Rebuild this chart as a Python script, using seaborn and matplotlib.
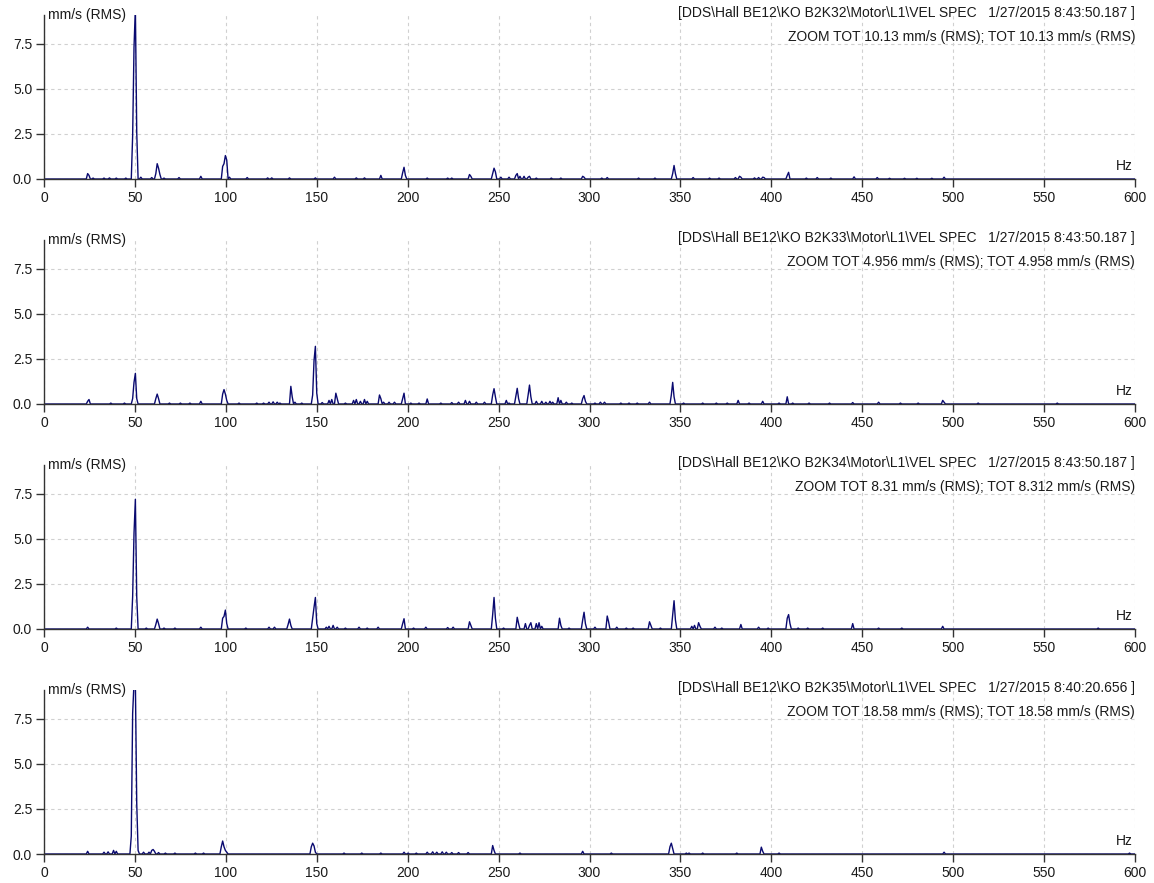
import numpy as np
import pandas as pd
import matplotlib
matplotlib.use("Agg")
import matplotlib.pyplot as plt
import seaborn as sns

# ---------------- data (peaks) ----------------
p1_freq = [24.0, 24.75, 27, 33, 36, 40, 45, 48.5, 49.25, 50.0, 50.75, 53, 59, 61.5, 62.25, 63.0, 63.75, 66, 74, 86,
           98.25, 99.0, 99.75, 100.5, 102, 112, 123, 125, 135, 149, 160, 172, 176, 185, 197.25, 198.0, 198.75, 211,
           222, 224, 234.25, 235, 246.75, 247.5, 248.25, 251, 256, 259.5, 260.25, 262, 264, 266, 267, 271, 279, 284,
           296.5, 297.25, 307, 310, 327, 336, 345.75, 346.5, 347.25, 357, 366, 371, 380, 382.5, 383.25, 391, 393,
           395.25, 396, 408.75, 409.5, 419, 425, 433, 445.5, 458.25, 465, 473, 480, 488, 495]
p1_amp = [0.3, 0.2, 0.05, 0.05, 0.06, 0.05, 0.05, 2.4, 7.3, 9.5, 2.6, 0.1, 0.08, 0.3, 0.85, 0.6, 0.25, 0.05, 0.08, 0.15,
          0.7, 0.85, 1.3, 1.05, 0.1, 0.08, 0.06, 0.06, 0.06, 0.06, 0.1, 0.06, 0.06, 0.2, 0.35, 0.65, 0.2, 0.05,
          0.05, 0.05, 0.25, 0.15, 0.3, 0.6, 0.4, 0.1, 0.1, 0.2, 0.3, 0.15, 0.15, 0.1, 0.15, 0.05, 0.05, 0.05,
          0.15, 0.1, 0.05, 0.08, 0.05, 0.05, 0.3, 0.75, 0.3, 0.08, 0.05, 0.05, 0.08, 0.15, 0.1, 0.06, 0.08,
          0.1, 0.08, 0.2, 0.37, 0.05, 0.08, 0.05, 0.12, 0.08, 0.04, 0.04, 0.04, 0.04, 0.1]

p2_freq = [24.0, 24.75, 37, 44, 48.5, 49.25, 50.0, 50.75, 61.5, 62.25, 63.0, 69, 75, 80, 86, 98.25, 99.0, 99.75, 100.5,
           107, 117, 121, 124, 126, 128, 130, 135.75, 136.5, 138, 142, 147.75, 148.5, 149.25, 150.0, 153, 157, 158.5,
           160.5, 161.25, 166, 170, 172, 174, 176, 178, 184.5, 185.25, 187, 190, 193, 197.25, 198, 202, 206, 211,
           218, 224, 228, 232, 234, 238, 242, 246.75, 247.5, 248.25, 254, 256, 259.75, 260.5, 261.25, 266.5, 267.25,
           268, 271, 274, 276, 278, 280, 283, 284, 287, 290, 296.25, 297, 297.75, 303, 306, 308, 317, 322, 326, 333,
           345.25, 346, 346.75, 352, 362, 370, 376, 382, 388, 395, 404, 408.5, 412, 421, 432, 445, 459, 471, 481,
           494.5, 495.25, 514, 557]
p2_amp = [0.15, 0.25, 0.05, 0.05, 0.3, 1.2, 1.7, 0.3, 0.3, 0.55, 0.3, 0.05, 0.05, 0.05, 0.15, 0.55, 0.8, 0.55, 0.2,
          0.05, 0.05, 0.05, 0.1, 0.12, 0.1, 0.05, 0.98, 0.4, 0.1, 0.05, 0.5, 2.4, 3.2, 0.6, 0.08, 0.2, 0.25,
          0.6, 0.3, 0.05, 0.2, 0.25, 0.15, 0.25, 0.15, 0.5, 0.3, 0.1, 0.1, 0.1, 0.3, 0.6, 0.05, 0.05, 0.28,
          0.05, 0.08, 0.1, 0.2, 0.15, 0.1, 0.1, 0.5, 0.85, 0.4, 0.2, 0.05, 0.45, 0.87, 0.3, 0.5, 1.05,
          0.4, 0.15, 0.15, 0.1, 0.15, 0.1, 0.35, 0.2, 0.1, 0.05, 0.3, 0.47, 0.15, 0.05, 0.1, 0.1, 0.05, 0.05, 0.05, 0.1,
          0.5, 1.2, 0.4, 0.05, 0.05, 0.05, 0.05, 0.2, 0.05, 0.15, 0.05, 0.4, 0.05, 0.05, 0.05, 0.08, 0.1, 0.05, 0.05,
          0.2, 0.1, 0.05, 0.05]

p3_freq = [24, 40, 48.5, 49.25, 50.0, 50.75, 56, 61.5, 62.25, 63.0, 66, 72, 86, 98.25, 99.0, 99.75, 100.5, 111, 124, 127,
           134.5, 135.25, 136, 147.75, 148.5, 149.25, 150, 155, 157, 159, 161, 166, 173, 178, 184, 197.25, 198, 203,
           210, 222, 225, 234.25, 235, 246.75, 247.5, 248.25, 253, 260.5, 261.25, 265, 267, 268, 271, 272, 274,
           283.75, 284.5, 289, 296.5, 297.25, 298, 303, 309.75, 310.5, 315, 320, 324, 333.25, 334, 339, 346, 346.75,
           347.5, 356, 358, 360, 361, 369, 373, 383, 393, 398, 408.75, 409.5, 410.25, 415, 420, 428, 445, 459, 472,
           494.5, 580]
p3_amp = [0.1, 0.05, 1.8, 5.3, 7.2, 1.8, 0.05, 0.25, 0.55, 0.3, 0.05, 0.05, 0.1, 0.6, 0.7, 1.05, 0.3, 0.05, 0.1, 0.1,
          0.25, 0.55, 0.2, 0.6, 1.2, 1.75, 0.3, 0.1, 0.15, 0.2, 0.1, 0.05, 0.1, 0.05, 0.1, 0.3, 0.57, 0.05,
          0.1, 0.08, 0.1, 0.4, 0.2, 0.8, 1.75, 0.6, 0.05, 0.65, 0.3, 0.3, 0.2, 0.35, 0.3, 0.35, 0.15,
          0.6, 0.2, 0.05, 0.5, 0.93, 0.3, 0.1, 0.72, 0.4, 0.1, 0.05, 0.05, 0.4, 0.2, 0.05, 0.8, 1.57,
          0.5, 0.15, 0.2, 0.35, 0.15, 0.1, 0.05, 0.25, 0.1, 0.05, 0.6, 0.8, 0.3, 0.05, 0.05, 0.05, 0.3, 0.05, 0.05,
          0.15, 0.05]

p4_freq = [24, 33, 35, 38, 40, 47.75, 48.5, 49.25, 50.0, 50.75, 51.5, 55, 58, 59.5, 60.25, 61, 63, 67, 72, 83, 88,
           97.5, 98.25, 99, 99.75, 100.5, 147, 147.75, 148.5, 149.25, 165, 175, 185, 198, 200, 205, 211, 214, 216,
           219, 221, 224, 228, 233, 246.75, 247.5, 262, 296.5, 312, 344.5, 345.25, 346, 353, 355, 362, 381,
           394.75, 395.5, 404, 495, 597]
p4_amp = [0.15, 0.1, 0.12, 0.2, 0.15, 1.0, 7.8, 9.5, 9.5, 2.8, 0.2, 0.1, 0.1, 0.2, 0.25, 0.15, 0.08, 0.05, 0.05, 0.05,
          0.05, 0.4, 0.72, 0.4, 0.2, 0.1, 0.4, 0.6, 0.45, 0.1, 0.05, 0.05, 0.05, 0.1, 0.05, 0.05, 0.1, 0.12, 0.1,
          0.12, 0.1, 0.08, 0.08, 0.08, 0.47, 0.2, 0.05, 0.15, 0.05, 0.4, 0.6, 0.3, 0.05, 0.05, 0.05, 0.05,
          0.38, 0.15, 0.05, 0.1, 0.05]

titles = [
    ("[DDS\\Hall BE12\\KO B2K32\\Motor\\L1\\VEL SPEC   1/27/2015 8:43:50.187 ]",
     "ZOOM TOT 10.13 mm/s (RMS); TOT 10.13 mm/s (RMS)"),
    ("[DDS\\Hall BE12\\KO B2K33\\Motor\\L1\\VEL SPEC   1/27/2015 8:43:50.187 ]",
     "ZOOM TOT 4.956 mm/s (RMS); TOT 4.958 mm/s (RMS)"),
    ("[DDS\\Hall BE12\\KO B2K34\\Motor\\L1\\VEL SPEC   1/27/2015 8:43:50.187 ]",
     "ZOOM TOT 8.31 mm/s (RMS); TOT 8.312 mm/s (RMS)"),
    ("[DDS\\Hall BE12\\KO B2K35\\Motor\\L1\\VEL SPEC   1/27/2015 8:40:20.656 ]",
     "ZOOM TOT 18.58 mm/s (RMS); TOT 18.58 mm/s (RMS)"),
]
y_unit = "mm/s (RMS)"
x_unit = "Hz"
x_ticks = [0, 50, 100, 150, 200, 250, 300, 350, 400, 450, 500, 550, 600]
y_ticks = [0.0, 2.5, 5.0, 7.5]
bin_width = 0.75
f_max = 600

panels = [(p1_freq, p1_amp), (p2_freq, p2_amp), (p3_freq, p3_amp), (p4_freq, p4_amp)]

# ---------------- styling ----------------
sns.set_style("white")
plt.rcParams['font.family'] = ['Liberation Sans', 'DejaVu Sans']
fs = 10
navy = "#0a0a70"
txt = "#1a1a1a"

fig = plt.figure(figsize=(11.54, 8.83), dpi=100)

W, H = 1154, 883
left_px, right_px = 44, 1135
top0_px, base0_px = 15, 179
pitch = 225

n_bins = int(round(f_max / bin_width)) + 1
bins = np.arange(n_bins) * bin_width

for i, (freq, amp) in enumerate(panels):
    base = base0_px + i * pitch
    top = top0_px + i * pitch
    ax = fig.add_axes([left_px / W, 1 - base / H, (right_px - left_px) / W, (base - top) / H])

    spec = np.zeros(n_bins)
    for f, a in zip(freq, amp):
        spec[int(round(f / bin_width))] = a
    df = pd.DataFrame({"Hz": bins, "amp": spec})
    sns.lineplot(data=df, x="Hz", y="amp", ax=ax, estimator=None, sort=False,
                 color=navy, linewidth=1.0)

    ax.set_xlim(0, 600)
    ax.set_ylim(0, 9.1)
    ax.set_xticks(x_ticks)
    ax.set_yticks(y_ticks)
    ax.set_xticklabels([str(t) for t in x_ticks], fontsize=fs, color=txt)
    ax.set_yticklabels([f"{t:.1f}" for t in y_ticks], fontsize=fs, color=txt)
    ax.set_xlabel("")
    ax.set_ylabel("")
    ax.grid(True, linestyle=(0, (3, 3)), color="#d0d0d0", linewidth=0.8)
    ax.set_axisbelow(True)
    for s in ("top", "right"):
        ax.spines[s].set_visible(False)
    ax.spines["left"].set_color("#333333")
    ax.spines["bottom"].set_color("#333333")
    ax.spines["left"].set_linewidth(1.0)
    ax.spines["bottom"].set_linewidth(1.0)
    ax.tick_params(axis="both", direction="out", length=5.5, width=1.0, color="#333333", pad=3,
                   bottom=True, left=True)

    ax.text(0.004, 1.0, y_unit, transform=ax.transAxes, ha="left", va="center", fontsize=fs, color=txt)
    ax.text(1.0, 1.012, titles[i][0], transform=ax.transAxes, ha="right", va="center", fontsize=fs, color=txt)
    ax.text(1.0, 0.868, titles[i][1], transform=ax.transAxes, ha="right", va="center", fontsize=fs, color=txt)
    ax.text(0.998, 0.08, x_unit, transform=ax.transAxes, ha="right", va="center", fontsize=fs, color=txt)

fig.savefig("out.png", dpi=100, facecolor="white")
